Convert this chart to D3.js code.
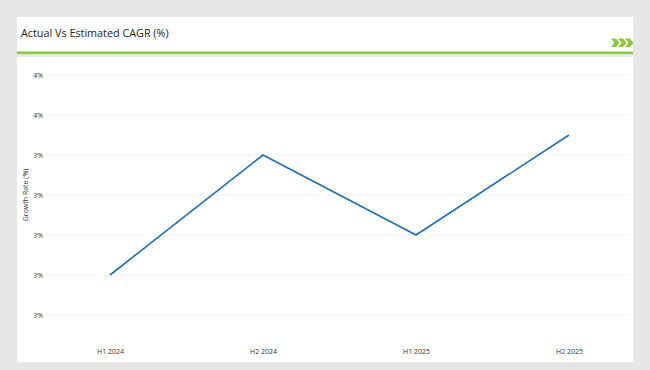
<!DOCTYPE html>
<html>
<head>
<meta charset="utf-8">
<script src="https://cdn.jsdelivr.net/npm/d3@7"></script>
<style>
  body { margin: 0; background: #e6e6e6; }
  svg { display: block; }
</style>
</head>
<body>
<svg id="chart" width="650" height="370"></svg>
<script>
// data
var periods = ["H1 2024", "H2 2024", "H1 2025", "H2 2025"];
var growth = [3.1, 3.4, 3.2, 3.45];
var tickValues = [3.0, 3.1, 3.2, 3.3, 3.4, 3.5, 3.6];
var tickLabels = ["3%", "3%", "3%", "3%", "3%", "4%", "4%"];

var svg = d3.select("#chart");
var font = "'Open Sans', 'Noto Sans', sans-serif";

// header panel
svg.append("rect").attr("x", 17).attr("y", 17).attr("width", 616).attr("height", 35).attr("fill", "#fff");
svg.append("text")
    .attr("x", 21).attr("y", 37)
    .attr("font-family", font).attr("font-size", 10.8).attr("fill", "#222")
    .text("Actual Vs Estimated CAGR (%)");
svg.append("rect").attr("x", 17).attr("y", 51.5).attr("width", 616).attr("height", 2.5).attr("fill", "#8cc63e");

// chevrons
var chev = svg.append("g").attr("fill", "#8cc63e");
[611, 618, 625].forEach(function(x) {
    chev.append("path")
        .attr("d", "M" + x + ",38.5 l5,0 l3.5,4.25 l-3.5,4.25 l-5,0 l3.5,-4.25 z");
});

// chart panel
svg.append("rect").attr("x", 17).attr("y", 57).attr("width", 616).attr("height", 305).attr("fill", "#fff");

var x = d3.scalePoint().domain(periods).range([110, 569]);
var y = d3.scaleLinear().domain([3.0, 3.6]).range([315, 75]);

// grid
svg.append("g").selectAll("line")
    .data(tickValues)
    .join("line")
    .attr("x1", 46).attr("x2", 630)
    .attr("y1", function(d) { return y(d); })
    .attr("y2", function(d) { return y(d); })
    .attr("stroke", "#d9d9d9")
    .attr("stroke-width", 0.8)
    .attr("stroke-dasharray", "1.2,2");

// y axis
var yAxis = svg.append("g")
    .attr("transform", "translate(43,0)")
    .call(d3.axisLeft(y).tickValues(tickValues).tickSize(0).tickPadding(0)
        .tickFormat(function(d, i) { return tickLabels[i]; }));
yAxis.select(".domain").remove();
yAxis.selectAll("text").attr("font-family", font).attr("font-size", 7).attr("fill", "#333");

svg.append("text")
    .attr("transform", "translate(28,195) rotate(-90)")
    .attr("text-anchor", "middle")
    .attr("font-family", font).attr("font-size", 7).attr("fill", "#333")
    .text("Growth Rate (%)");

// x axis
var xAxis = svg.append("g")
    .attr("transform", "translate(0,349)")
    .call(d3.axisBottom(x).tickSize(0).tickPadding(0));
xAxis.select(".domain").remove();
xAxis.selectAll("text").attr("font-family", font).attr("font-size", 7).attr("fill", "#333");

// line
var line = d3.line()
    .x(function(d, i) { return x(periods[i]); })
    .y(function(d) { return y(d); });

svg.append("path")
    .attr("d", line(growth))
    .attr("fill", "none")
    .attr("stroke", "#1f6fae")
    .attr("stroke-width", 1.6);
</script>
</body>
</html>
